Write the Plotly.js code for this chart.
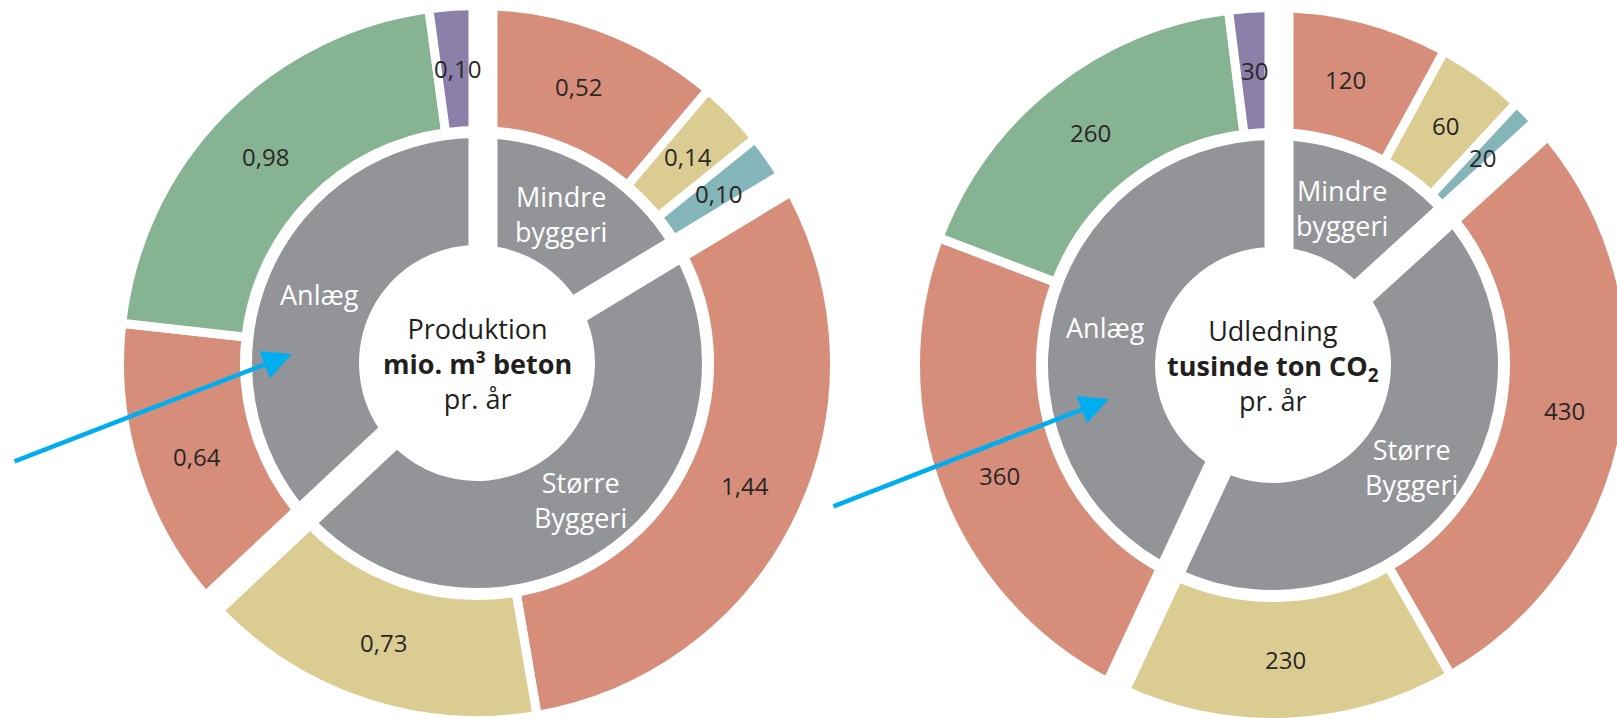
<!DOCTYPE html>
<html>
<head>
<meta charset="utf-8">
<script src="https://cdn.plot.ly/plotly-3.0.1.min.js"></script>
<style>
html, body { margin: 0; padding: 0; overflow: hidden; background: #ffffff; width: 1617px; height: 718px; }
#chart { position: absolute; left: -60px; top: -60px; width: 1737px; height: 838px; }
</style>
</head>
<body>
<div id="chart"></div>
<script>
// ---------------- DATA ----------------
const groupNames = ['Mindre<br>byggeri', 'Større<br>Byggeri', 'Anlæg'];
const subGroupIndex = [0, 0, 0, 1, 1, 2, 2, 2];
const subColors = ['#D68E7B', '#DBCD91', '#84B5B9', '#D68E7B', '#DBCD91', '#D68E7B', '#86B391', '#8B80A9'];

const prodValues = [0.52, 0.14, 0.10, 1.44, 0.73, 0.64, 0.98, 0.10];
const prodText = ['0,52', '0,14', '0,10', '1,44', '0,73', '0,64', '0,98', '0,10'];
const prodCenterText = 'Produktion<br><b>mio. m³ beton</b><br>pr. år';

const co2Values = [120, 60, 20, 430, 230, 360, 260, 30];
const co2Text = ['120', '60', '20', '430', '230', '360', '260', '30'];
const co2CenterText = 'Udledning<br><b>tusinde ton CO<sub>2</sub></b><br>pr. år';

// ---------------- GEOMETRY / STYLE ----------------
const W = 1617, H = 718, PAD = 60;
const TW = W + 2 * PAD, TH = H + 2 * PAD;
const R_OUT = 353, R_OUT_IN = 237, R_IN = 225, R_HOLE = 118;
const OUT_STROKE = 9, GROUP_GAP = 29, GAP_SHIFT = 6;
const GRAY = '#939498';
const FONT = 'Open Sans, Noto Sans, sans-serif';

const px = x => (x + PAD) / TW;
const py = y => 1 - (y + PAD) / TH;

function domainFor(cx, cy, r) {
  return { x: [px(cx - r), px(cx + r)], y: [py(cy + r), py(cy - r)] };
}

const traces = [];
const shapes = [];
const annotations = [];

function addChart(cx, cy, values, texts, centerText) {
  const total = values.reduce((a, b) => a + b, 0);
  const groupVals = groupNames.map((_, g) =>
    values.reduce((s, v, i) => s + (subGroupIndex[i] === g ? v : 0), 0));

  // inner ring
  traces.push({
    type: 'pie', values: groupVals, labels: groupNames.map((_, i) => 'g' + i),
    marker: { colors: groupNames.map(() => GRAY), line: { width: 0 } },
    hole: R_HOLE / R_IN, domain: domainFor(cx, cy, R_IN),
    sort: false, direction: 'clockwise', rotation: 0,
    textinfo: 'none', hoverinfo: 'skip', showlegend: false
  });

  // outer ring
  const rO = R_OUT + OUT_STROKE / 2;
  traces.push({
    type: 'pie', values: values, labels: values.map((_, i) => 's' + i),
    marker: { colors: subColors, line: { color: '#ffffff', width: OUT_STROKE } },
    hole: (R_OUT_IN - OUT_STROKE / 2) / rO, domain: domainFor(cx, cy, rO),
    sort: false, direction: 'clockwise', rotation: 0,
    textinfo: 'none', hoverinfo: 'skip', showlegend: false
  });

  // outer labels
  let cum = 0;
  values.forEach((v, i) => {
    const mid = (cum + v / 2) / total * 2 * Math.PI;
    cum += v;
    const r = (R_OUT + R_OUT_IN) / 2;
    annotations.push({
      xref: 'paper', yref: 'paper',
      x: px(cx + r * Math.sin(mid)), y: py(cy - r * Math.cos(mid)),
      text: texts[i], showarrow: false, xanchor: 'center', yanchor: 'middle',
      font: { family: FONT, size: 24, color: '#2a2727' }
    });
  });

  // inner labels + group gaps
  let gcum = 0;
  groupVals.forEach((v, g) => {
    const a0 = gcum / total * 2 * Math.PI;
    const mid = (gcum + v / 2) / total * 2 * Math.PI;
    gcum += v;
    const r = (R_IN + R_HOLE) / 2;
    annotations.push({
      xref: 'paper', yref: 'paper',
      x: px(cx + r * Math.sin(mid)), y: py(cy - r * Math.cos(mid)),
      text: groupNames[g], showarrow: false, xanchor: 'center', yanchor: 'middle',
      font: { family: FONT, size: 27, color: '#ffffff' }
    });
    const rr = R_OUT + 20;
    const sx = GAP_SHIFT * Math.cos(a0), sy = GAP_SHIFT * Math.sin(a0);
    shapes.push({
      type: 'line', xref: 'paper', yref: 'paper',
      x0: px(cx + sx), y0: py(cy + sy),
      x1: px(cx + sx + rr * Math.sin(a0)), y1: py(cy + sy - rr * Math.cos(a0)),
      line: { color: '#ffffff', width: GROUP_GAP }
    });
  });

  // center text
  annotations.push({
    xref: 'paper', yref: 'paper', x: px(cx), y: py(cy),
    text: centerText, showarrow: false, xanchor: 'center', yanchor: 'middle',
    font: { family: FONT, size: 27, color: '#231f20' }
  });
}

addChart(477, 363, prodValues, prodText, prodCenterText);
addChart(1273, 365, co2Values, co2Text, co2CenterText);

// blue arrows
const arrowDefs = [
  { tip: [292, 354], tail: [13, 462] },
  { tip: [1109, 399], tail: [832, 507] }
];
arrowDefs.forEach(a => {
  annotations.push({
    xref: 'paper', yref: 'paper', x: px(a.tip[0]), y: py(a.tip[1]),
    ax: a.tail[0] - a.tip[0], ay: a.tail[1] - a.tip[1],
    text: '', showarrow: true, arrowhead: 2, arrowsize: 1.3, arrowwidth: 4.5,
    arrowcolor: '#00AEEF', standoff: 0
  });
});

const layout = {
  width: TW, height: TH,
  margin: { l: 0, r: 0, t: 0, b: 0 },
  paper_bgcolor: '#ffffff', plot_bgcolor: '#ffffff',
  showlegend: false,
  shapes: shapes,
  annotations: annotations
};

Plotly.newPlot('chart', traces, layout, { staticPlot: true, displayModeBar: false });
</script>
</body>
</html>
